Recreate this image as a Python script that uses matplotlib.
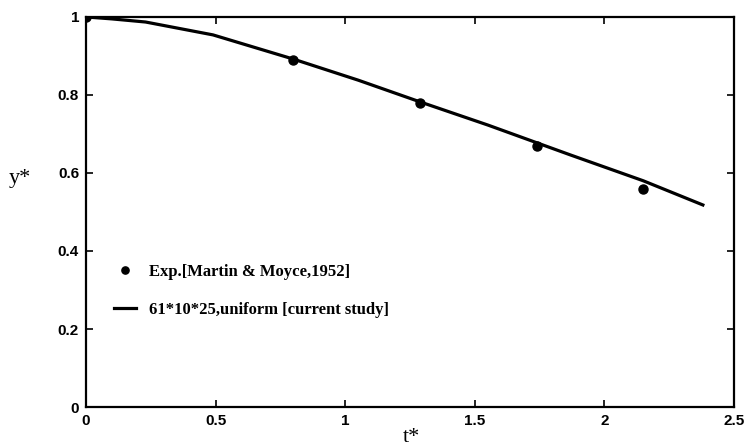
import matplotlib
matplotlib.use("Agg")
import matplotlib.pyplot as plt

# Experimental data [Martin & Moyce, 1952]
exp_t = [0.0, 0.80, 1.29, 1.74, 2.15]
exp_y = [1.0, 0.89, 0.78, 0.67, 0.56]

# Current study curve
sim_t = [0.0, 0.10, 0.23, 0.49, 0.80, 1.05, 1.29, 1.55, 1.87, 2.15, 2.38]
sim_y = [1.0, 0.995, 0.987, 0.954, 0.892, 0.838, 0.782, 0.723, 0.646, 0.580, 0.518]

xticks = [0, 0.5, 1, 1.5, 2, 2.5]
xtick_labels = ["0", "0.5", "1", "1.5", "2", "2.5"]
yticks = [0, 0.2, 0.4, 0.6, 0.8, 1]
ytick_labels = ["0", "0.2", "0.4", "0.6", "0.8", "1"]

fig = plt.figure(figsize=(7.45, 4.46), dpi=100)
ax = fig.add_axes([0.1154, 0.0874, 0.8698, 0.8746])

ax.plot(exp_t, exp_y, "o", color="black", markersize=6.5, linestyle="none",
        label="Exp.[Martin & Moyce,1952]", zorder=3)
ax.plot(sim_t, sim_y, "-", color="black", linewidth=2.3,
        label="61*10*25,uniform [current study]", zorder=2)

ax.set_xlim(0, 2.5)
ax.set_ylim(0, 1)
ax.set_xticks(xticks)
ax.set_xticklabels(xtick_labels)
ax.set_yticks(yticks)
ax.set_yticklabels(ytick_labels)

for s in ax.spines.values():
    s.set_linewidth(1.6)

ax.tick_params(direction="in", top=True, right=True, length=5, width=1.2,
               labelsize=11, pad=5)
for lab in ax.get_xticklabels() + ax.get_yticklabels():
    lab.set_fontfamily("Liberation Sans")
    lab.set_fontweight("bold")

ax.set_xlabel("t*", fontfamily="Liberation Serif", fontsize=16)
ax.xaxis.set_label_coords(0.503, -0.078)
ax.xaxis.label.set_va("center")
ax.set_ylabel("y*", fontfamily="Liberation Serif", fontsize=16, rotation=0,
              va="center", ha="center")
ax.yaxis.set_label_coords(-0.102, 0.585)

leg = ax.legend(loc="upper left", bbox_to_anchor=(0.02, 0.405), frameon=False,
                prop={"family": "Liberation Serif", "weight": "bold", "size": 12},
                labelspacing=1.3, handlelength=1.3, handletextpad=0.8,
                markerscale=0.8)

fig.savefig("out.png", dpi=100)
